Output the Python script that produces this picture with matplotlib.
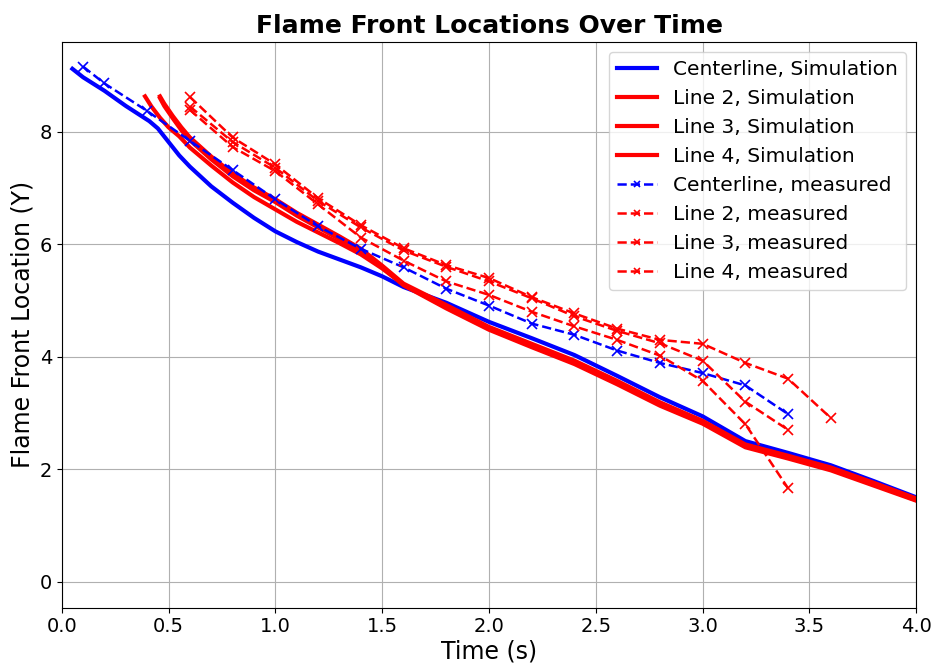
import numpy as np
import matplotlib
matplotlib.use("Agg")
import matplotlib.pyplot as plt

# simulated flame front positions (time in s, location in Y)
t_center_sim = [0.05, 0.1, 0.2, 0.3, 0.41, 0.45, 0.5, 0.55, 0.6, 0.7, 0.8, 0.9, 1.0, 1.1, 1.2, 1.3,
                1.4, 1.5, 1.6, 1.8, 2.0, 2.2, 2.4, 2.6, 2.8, 3.0, 3.2, 3.4, 3.6, 3.8, 4.0]
y_center_sim = [9.12, 8.97, 8.73, 8.46, 8.19, 8.06, 7.82, 7.58, 7.38, 7.03, 6.74, 6.47, 6.23, 6.04, 5.87, 5.73,
                5.59, 5.43, 5.24, 4.96, 4.62, 4.33, 4.03, 3.66, 3.28, 2.94, 2.50, 2.29, 2.07, 1.79, 1.50]

t_line2_sim = [0.39, 0.42, 0.46, 0.5, 0.55, 0.6, 0.7, 0.8, 0.9, 1.0, 1.1, 1.2, 1.3, 1.4, 1.5, 1.6,
               1.8, 2.0, 2.2, 2.4, 2.6, 2.8, 3.0, 3.2, 3.4, 3.6, 3.8, 4.0]
y_line2_sim = [8.63, 8.45, 8.25, 8.08, 7.92, 7.72, 7.40, 7.10, 6.84, 6.62, 6.40, 6.21, 6.02, 5.82, 5.57, 5.28,
               4.88, 4.50, 4.20, 3.90, 3.54, 3.16, 2.83, 2.41, 2.21, 2.00, 1.73, 1.45]

t_line3_sim = [0.46, 0.48, 0.52, 0.56, 0.6, 0.7, 0.8, 0.9, 1.0, 1.1, 1.2, 1.3, 1.4, 1.5, 1.6,
               1.8, 2.0, 2.2, 2.4, 2.6, 2.8, 3.0, 3.2, 3.4, 3.6, 3.8, 4.0]
y_line3_sim = [8.63, 8.50, 8.28, 8.08, 7.90, 7.56, 7.26, 7.01, 6.80, 6.56, 6.35, 6.14, 5.92, 5.62, 5.30,
               4.92, 4.53, 4.23, 3.93, 3.57, 3.19, 2.86, 2.44, 2.24, 2.03, 1.76, 1.48]

t_line4_sim = [0.46, 0.48, 0.52, 0.56, 0.6, 0.7, 0.8, 0.9, 1.0, 1.1, 1.2, 1.3, 1.4, 1.5, 1.6,
               1.8, 2.0, 2.2, 2.4, 2.6, 2.8, 3.0, 3.2, 3.4, 3.6, 3.8, 4.0]
y_line4_sim = [8.60, 8.46, 8.24, 8.03, 7.85, 7.51, 7.21, 6.96, 6.75, 6.51, 6.30, 6.09, 5.88, 5.60, 5.27,
               4.86, 4.48, 4.17, 3.87, 3.51, 3.13, 2.81, 2.39, 2.19, 1.98, 1.71, 1.44]

# measured flame front positions
t_center_meas = [0.1, 0.2, 0.4, 0.6, 0.8, 1.0, 1.2, 1.4, 1.6, 1.8, 2.0, 2.2, 2.4, 2.6, 2.8, 3.0, 3.2, 3.4]
y_center_meas = [9.16, 8.86, 8.37, 7.84, 7.32, 6.80, 6.32, 5.92, 5.59, 5.21, 4.91, 4.59, 4.39, 4.11, 3.89,
                 3.71, 3.49, 2.98]

t_line2_meas = [0.6, 0.8, 1.0, 1.2, 1.4, 1.6, 1.8, 2.0, 2.2, 2.4, 2.6, 2.8, 3.0, 3.2, 3.4, 3.6]
y_line2_meas = [8.62, 7.90, 7.42, 6.82, 6.34, 5.93, 5.63, 5.40, 5.06, 4.77, 4.50, 4.30, 4.23, 3.89, 3.61, 2.91]

t_line3_meas = [0.6, 0.8, 1.0, 1.2, 1.4, 1.6, 1.8, 2.0, 2.2, 2.4, 2.6, 2.8, 3.0, 3.2, 3.4]
y_line3_meas = [8.45, 7.82, 7.36, 6.77, 6.30, 5.89, 5.60, 5.34, 5.04, 4.72, 4.46, 4.24, 3.93, 3.20, 2.70]

t_line4_meas = [0.6, 0.8, 1.0, 1.2, 1.4, 1.6, 1.8, 2.0, 2.2, 2.4, 2.6, 2.8, 3.0, 3.2, 3.4]
y_line4_meas = [8.39, 7.73, 7.30, 6.71, 6.12, 5.71, 5.34, 5.10, 4.80, 4.54, 4.30, 4.02, 3.57, 2.80, 1.66]


fig = plt.figure(figsize=(9.35, 6.64), dpi=100)
ax = fig.add_axes([0.066, 0.085, 0.914, 0.852])

sim_lw = 3
ax.plot(t_center_sim, y_center_sim, color='blue', lw=sim_lw, label='Centerline, Simulation')
ax.plot(t_line2_sim, y_line2_sim, color='red', lw=sim_lw, label='Line 2, Simulation')
ax.plot(t_line3_sim, y_line3_sim, color='red', lw=sim_lw, label='Line 3, Simulation')
ax.plot(t_line4_sim, y_line4_sim, color='red', lw=sim_lw, label='Line 4, Simulation')

meas_kw = dict(ls='--', marker='x', lw=1.8, ms=7, mew=1.2)
ax.plot(t_center_meas, y_center_meas, color='blue', label='Centerline, measured', **meas_kw)
ax.plot(t_line2_meas, y_line2_meas, color='red', label='Line 2, measured', **meas_kw)
ax.plot(t_line3_meas, y_line3_meas, color='red', label='Line 3, measured', **meas_kw)
ax.plot(t_line4_meas, y_line4_meas, color='red', label='Line 4, measured', **meas_kw)

ax.set_xlim(0, 4)
ax.set_ylim(-0.46, 9.6)
ax.set_xticks(np.arange(0, 4.01, 0.5))
ax.set_yticks([0, 2, 4, 6, 8])
ax.tick_params(labelsize=14)
ax.grid(True)

ax.set_xlabel('Time (s)', fontsize=17, labelpad=2)
ax.set_ylabel('Flame Front Location (Y)', fontsize=17)
ax.set_title('Flame Front Locations Over Time', fontsize=18, fontweight='bold', pad=6)
ax.legend(loc='upper right', fontsize=14.5, markerscale=0.7)

fig.savefig('out.png', dpi=100)
